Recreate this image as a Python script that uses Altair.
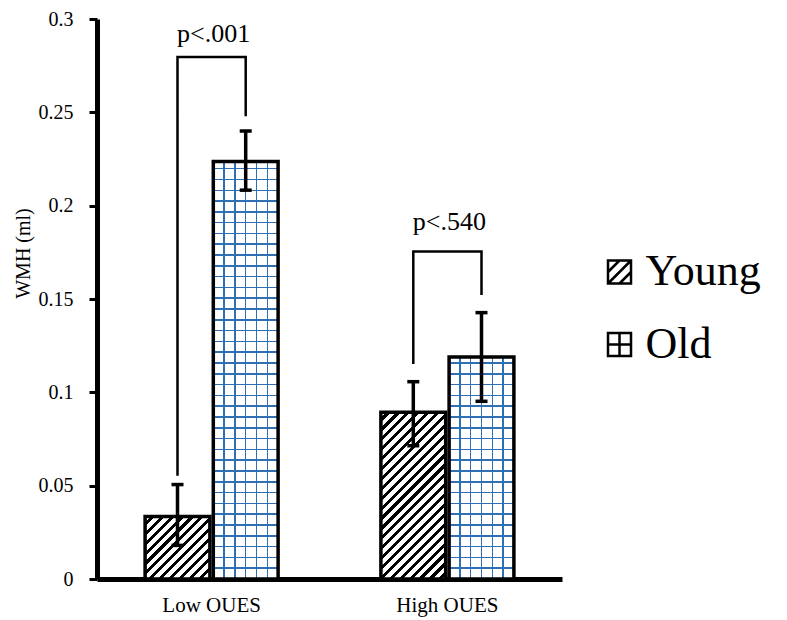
import math
import altair as alt
import pandas as pd

# ---------------- data ----------------
categories = ["Low OUES", "High OUES"]
groups = ["Young", "Old"]
mean_young = [0.0335, 0.0893]
mean_old = [0.2236, 0.1189]
err_lo_young = [0.0180, 0.0714]
err_hi_young = [0.0506, 0.1057]
err_lo_old = [0.2083, 0.0952]
err_hi_old = [0.2400, 0.1427]

p_labels = ["p<.001", "p<.540"]
p_label_y = [0.2876, 0.1871]
bracket_top = [0.2796, 0.1755]
bracket_left_end = [0.0553, 0.1152]
bracket_right_end = [0.2479, 0.1522]

y_ticks = [0, 0.05, 0.1, 0.15, 0.2, 0.25, 0.3]

# ---------------- tables ----------------
rows = []
for i, c in enumerate(categories):
    rows.append(dict(cat=c, grp="Young", mean=mean_young[i], lo=err_lo_young[i], hi=err_hi_young[i]))
    rows.append(dict(cat=c, grp="Old", mean=mean_old[i], lo=err_lo_old[i], hi=err_hi_old[i]))
bars_df = pd.DataFrame(rows)

brow = []
for i, c in enumerate(categories):
    pts = [("Young", bracket_left_end[i]), ("Young", bracket_top[i]),
           ("Old", bracket_top[i]), ("Old", bracket_right_end[i])]
    for j, (g, v) in enumerate(pts):
        brow.append(dict(cat=c, grp=g, val=v, ord=j))
br_df = pd.DataFrame(brow)

p_df = pd.DataFrame(dict(cat=categories, label=p_labels, py=p_label_y))
leg_df = pd.DataFrame(dict(grp=groups))

# ---------------- layout ----------------
W, H = 465, 560
YMAX = 0.3
PAD_IN, PAD_OUT, OFF_PAD = 0.436, 0.204, 0.05
step = W / (2 - PAD_IN + 2 * PAD_OUT)
bandw = step * (1 - PAD_IN)
bar_w = bandw / (2 - OFF_PAD) * (1 - OFF_PAD)

SERIF = "Liberation Serif"
GRID_BLUE = "#2f6fb3"


def hatch(w, h, period=7.0, frac=0.42):
    D = (w + h) / math.sqrt(2)
    k = (w + h) / (w * w + h * h)
    stops = []
    n = int(math.ceil(D / period))
    for i in range(n):
        a = min(i * period / D, 1)
        b = min((i * period + period * (1 - frac)) / D, 1)
        c = min((i + 1) * period / D, 1)
        stops += [(a, "white"), (b, "white"), (b, "black"), (c, "black")]
    return alt.LinearGradient(
        gradient="linear", x1=0, y1=0, x2=k * w, y2=k * h,
        stops=[alt.GradientStop(offset=o, color=col) for o, col in stops])


def lines_grad(length, period, lw, bg, vertical):
    stops = []
    pos = length
    marks = []
    while pos > -period:
        marks.append(pos)
        pos -= period
    marks = sorted(marks)
    stops.append((0, bg))
    for m in marks:
        a = (m - lw / 2) / length
        b = (m + lw / 2) / length
        if b <= 0 or a >= 1:
            continue
        a, b = max(a, 0), min(b, 1)
        stops += [(a, bg), (a, GRID_BLUE), (b, GRID_BLUE), (b, bg)]
    stops.append((1, bg))
    if vertical:
        return alt.LinearGradient(gradient="linear", x1=0, y1=0, x2=0, y2=1,
                                  stops=[alt.GradientStop(offset=o, color=c) for o, c in stops])
    return alt.LinearGradient(gradient="linear", x1=0, y1=0, x2=1, y2=0,
                              stops=[alt.GradientStop(offset=o, color=c) for o, c in stops])


x_enc = alt.X("cat:N", scale=alt.Scale(domain=categories, paddingInner=PAD_IN, paddingOuter=PAD_OUT),
              axis=alt.Axis(title=None, labelAngle=0, ticks=False, domainWidth=5, domainColor="black",
                            labelFont=SERIF, labelFontSize=21, labelColor="black", labelPadding=15))
xo_enc = alt.XOffset("grp:N", scale=alt.Scale(domain=groups, paddingInner=OFF_PAD, paddingOuter=0))
y_scale = alt.Scale(domain=[0, YMAX], nice=False, zero=True)
y_axis = alt.Axis(title="WMH (ml)", values=y_ticks, format="~g", grid=False,
                  domainWidth=5, domainColor="black", tickColor="black", tickWidth=3, tickSize=8,
                  labelFont=SERIF, labelFontSize=20, labelColor="black", labelPadding=16,
                  titleFont=SERIF, titleFontSize=20, titleFontWeight="normal", titleColor="black",
                  titleAngle=270, titleX=-68, titleY=234, titleBaseline="alphabetic", titleAlign="center")


def Y(field):
    return alt.Y(field, type="quantitative", scale=y_scale, axis=y_axis)


layers = []
for i, c in enumerate(categories):
    for g in groups:
        val = mean_young[i] if g == "Young" else mean_old[i]
        h = val * H / YMAX
        base = alt.Chart(bars_df).transform_filter(
            (alt.datum.cat == c) & (alt.datum.grp == g))
        if g == "Young":
            layers.append(base.mark_bar(fill=hatch(bar_w, h), stroke="black", strokeWidth=3.5)
                          .encode(x=x_enc, xOffset=xo_enc, y=Y("mean")))
        else:
            cell = bar_w / 6
            layers.append(base.mark_bar(fill=lines_grad(h, cell, 1.5, "white", True), strokeWidth=0)
                          .encode(x=x_enc, xOffset=xo_enc, y=Y("mean")))
            layers.append(base.mark_bar(fill=lines_grad(bar_w, cell, 1.5, "rgba(255,255,255,0)", False),
                                        stroke="black", strokeWidth=3.5)
                          .encode(x=x_enc, xOffset=xo_enc, y=Y("mean")))

err_rule = alt.Chart(bars_df).mark_rule(color="black", strokeWidth=3.5).encode(
    x=x_enc, xOffset=xo_enc, y=Y("lo"), y2="hi")
cap_lo = alt.Chart(bars_df).mark_tick(color="black", size=12, thickness=3.5, opacity=1).encode(
    x=x_enc, xOffset=xo_enc, y=Y("lo"))
cap_hi = alt.Chart(bars_df).mark_tick(color="black", size=12, thickness=3.5, opacity=1).encode(
    x=x_enc, xOffset=xo_enc, y=Y("hi"))

brackets = alt.Chart(br_df).mark_line(color="black", strokeWidth=2.5, strokeJoin="miter").encode(
    x=x_enc, xOffset=xo_enc, y=Y("val"), detail="cat:N", order="ord:Q")

ptext = alt.Chart(p_df).mark_text(font=SERIF, fontSize=26, color="black", baseline="alphabetic",
                                  align="center", dx=2).encode(
    x=x_enc, y=Y("py"), text="label:N")

path_young = "M-1,-1H1V1H-1Z M-1,0L0,-1 M-1,1L1,-1 M0,1L1,0"
path_old = "M-1,-1H1V1H-1Z M0,-1V1 M-1,0H1"
legend_layer = alt.Chart(leg_df).mark_point(opacity=0, filled=False, stroke="black").encode(
    shape=alt.Shape("grp:N", scale=alt.Scale(domain=groups, range=[path_young, path_old]),
                    legend=alt.Legend(title=None, orient="none", legendX=500.5, legendY=231,
                                      symbolSize=529, symbolStrokeWidth=2.5, symbolStrokeColor="black",
                                      symbolFillColor="white", symbolOpacity=1,
                                      labelFont=SERIF, labelFontSize=44, labelColor="black",
                                      labelOffset=4, labelLimit=400, rowPadding=28.5, padding=0)))

chart = alt.layer(*layers, err_rule, cap_lo, cap_hi, brackets, ptext, legend_layer).properties(
    width=W, height=H,
    padding={"left": 89, "top": 11, "right": 217, "bottom": 39},
    autosize=alt.AutoSizeParams(type="none"),
).configure_view(stroke=None)

chart.save("out.html", embed_options={"renderer": "svg", "actions": False})
